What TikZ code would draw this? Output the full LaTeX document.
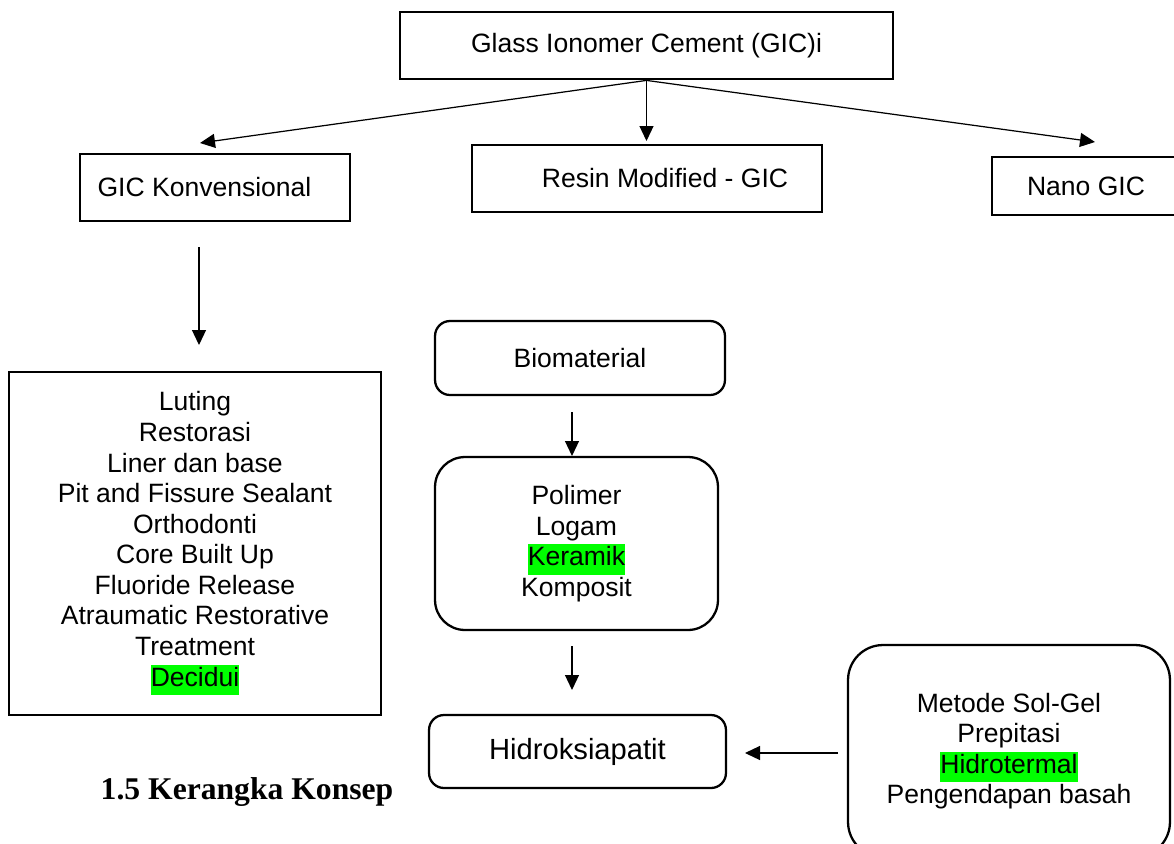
\documentclass[tikz,border=0pt]{standalone}
\usepackage{fontspec}
\setmainfont{Liberation Sans}
\newfontfamily\capfont{Liberation Serif}
\usepackage{xcolor}
\usetikzlibrary{arrows.meta}
\definecolor{markgreen}{HTML}{00FF00}
\newcommand{\greenmark}[1]{{\setlength{\fboxsep}{0pt}\colorbox{markgreen}{\strut #1}}}

\begin{document}
\begin{tikzpicture}[x=0.02cm,y=-0.02cm,
  boxtext/.style={font=\fontsize{15.1}{17.4}\selectfont,align=center,inner sep=0pt},
  sqbox/.style={boxtext,draw,line width=1.6pt},
  rndbox/.style={boxtext,draw,line width=1.3pt,rounded corners=#1},
  rndbox/.default=0.3cm,
  arr/.style={line width=0.7pt,-{Triangle[length=0.3cm,width=0.28cm]}}]
\useasboundingbox (0,0) rectangle (1174,843);
\clip (0,0) rectangle (1174,843);

\node[sqbox,minimum width=9.86cm,minimum height=1.34cm] (gic) at (646.5,45.5) {Glass Ionomer Cement (GIC)i};
\node[sqbox,minimum width=5.4cm,minimum height=1.34cm] (konv) at (215,187.5) {GIC Konvensional\rule{0.42cm}{0pt}};
\node[sqbox,minimum width=7cm,minimum height=1.34cm] (resin) at (647,178.5) {\rule{0.72cm}{0pt}Resin Modified - GIC};
\node[sqbox,minimum width=3.76cm,minimum height=1.16cm] (nano) at (1086,186) {Nano GIC};

\node[sqbox,minimum width=7.44cm,minimum height=6.86cm] (guna) at (195,543.5) {Luting\\Restorasi\\Liner dan base\\Pit and Fissure Sealant\\Orthodonti\\Core Built Up\\Fluoride Release\\Atraumatic Restorative\\Treatment\\\greenmark{Decidui}};

\node[rndbox,minimum width=5.8cm,minimum height=1.48cm] (bio) at (580,358) {Biomaterial};
\node[rndbox=0.6cm,minimum width=5.66cm,minimum height=3.46cm] (jenis) at (576.5,543.5) {Polimer\\Logam\\\greenmark{Keramik}\\Komposit};
\node[rndbox,minimum width=5.94cm,minimum height=1.46cm,font=\fontsize{16.6}{19}\selectfont] (hidro) at (577.5,751.5) {Hidroksiapatit};
\node[rndbox=0.7cm,minimum width=6.44cm,minimum height=4.24cm] (metode) at (1009,751) {Metode Sol-Gel\\Prepitasi\\\greenmark{Hidrotermal}\\Pengendapan basah};

\node[font=\capfont\bfseries\fontsize{18}{21}\selectfont,inner sep=0pt] (judul) at (247,792) {1.5 Kerangka Konsep};

\coordinate (konvtip) at (200,143);
\coordinate (resintip) at (646.5,141);
\coordinate (nanotip) at (1095,142);
\coordinate (konvout) at (199,247);
\coordinate (gunain) at (199,345);
\coordinate (bioout) at (572,412);
\coordinate (jenisin) at (572,456);
\coordinate (jenisout) at (572,646);
\coordinate (hidroin) at (572,690);
\coordinate (metodeout) at (838,753);
\coordinate (hidroright) at (745,753);

\draw[arr] (gic.south) -- (konvtip);
\draw[arr] (gic.south) -- (resintip);
\draw[arr] (gic.south) -- (nanotip);
\draw[arr] (konvout) -- (gunain);
\draw[arr] (bioout) -- (jenisin);
\draw[arr] (jenisout) -- (hidroin);
\draw[arr] (metodeout) -- (hidroright);
\end{tikzpicture}
\end{document}
